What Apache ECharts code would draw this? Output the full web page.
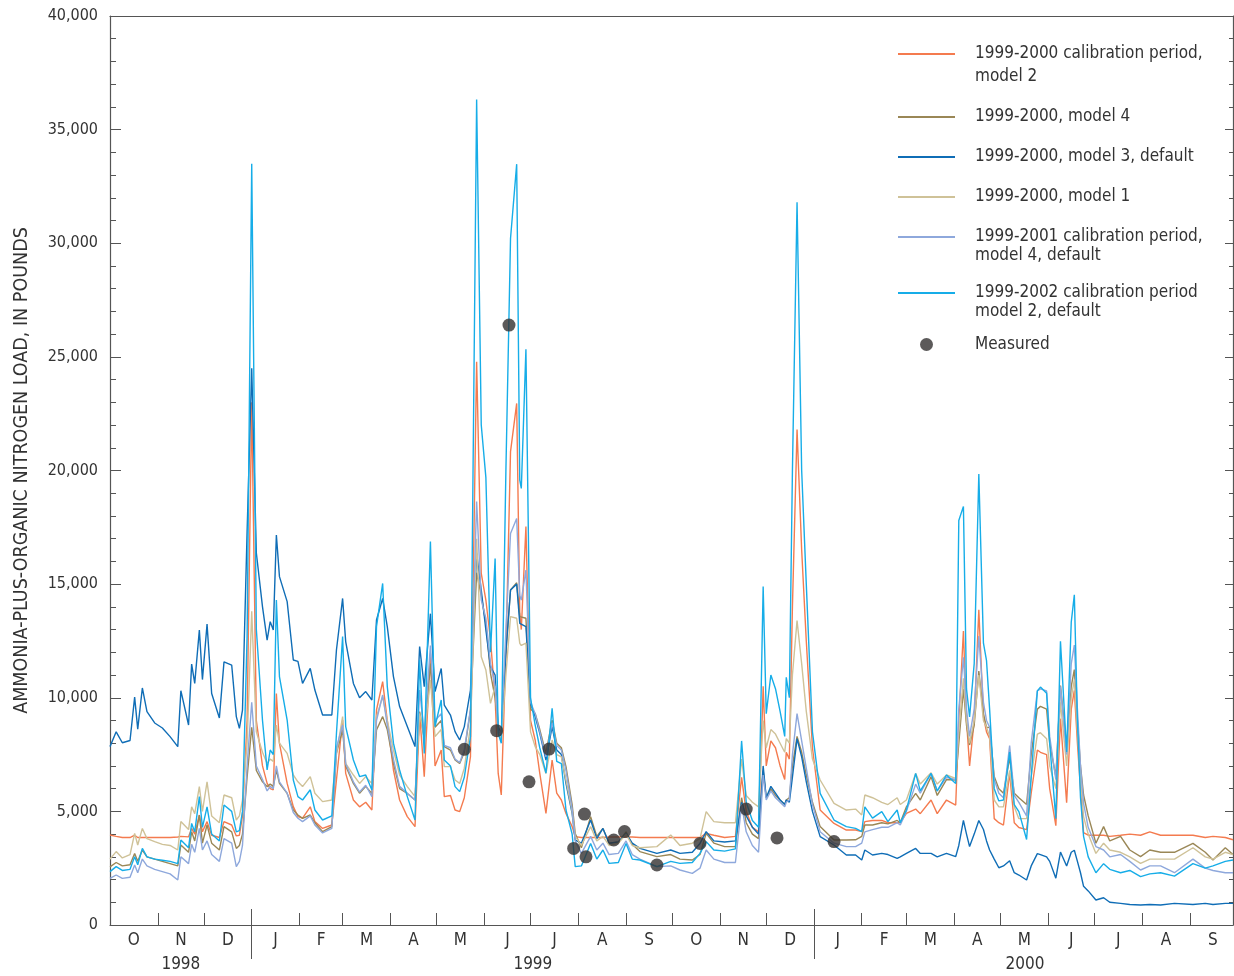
<!DOCTYPE html>
<html>
<head>
<meta charset="utf-8">
<title>Ammonia-plus-organic nitrogen load</title>
<script src="https://cdn.jsdelivr.net/npm/echarts@6/dist/echarts.min.js"></script>
<style>
    html, body { margin: 0; padding: 0; background: #fff; }
    #chart { width: 1234px; height: 976px; }
</style>
</head>
<body>
<div id="chart"></div>
<script>
const dates = [
    '1998-10-01','1998-10-05','1998-10-09','1998-10-14','1998-10-17','1998-10-19','1998-10-22','1998-10-25','1998-10-30','1998-11-04',
    '1998-11-09','1998-11-14','1998-11-16','1998-11-21','1998-11-23','1998-11-25','1998-11-28','1998-11-30','1998-12-03','1998-12-06',
    '1998-12-11','1998-12-14','1998-12-19','1998-12-22','1998-12-24','1998-12-26','1998-12-29','1999-01-01','1999-01-04','1999-01-08',
    '1999-01-11','1999-01-13','1999-01-15','1999-01-17','1999-01-19','1999-01-24','1999-01-28','1999-01-31','1999-02-03','1999-02-08',
    '1999-02-11','1999-02-16','1999-02-22','1999-02-25','1999-03-01','1999-03-03','1999-03-08','1999-03-12','1999-03-16','1999-03-20',
    '1999-03-23','1999-03-27','1999-03-30','1999-04-03','1999-04-07','1999-04-12','1999-04-17','1999-04-20','1999-04-23','1999-04-27',
    '1999-04-30','1999-05-04','1999-05-06','1999-05-10','1999-05-13','1999-05-16','1999-05-19','1999-05-23','1999-05-27','1999-05-30',
    '1999-06-02','1999-06-05','1999-06-08','1999-06-10','1999-06-12','1999-06-15','1999-06-18','1999-06-22','1999-06-24','1999-06-25',
    '1999-06-28','1999-07-01','1999-07-04','1999-07-07','1999-07-11','1999-07-15','1999-07-18','1999-07-21','1999-07-24','1999-07-28',
    '1999-07-30','1999-08-03','1999-08-09','1999-08-13','1999-08-17','1999-08-21','1999-08-27','1999-09-01','1999-09-05','1999-09-10',
    '1999-09-21','1999-09-30','1999-10-06','1999-10-14','1999-10-19','1999-10-23','1999-10-28','1999-11-04','1999-11-11','1999-11-15',
    '1999-11-18','1999-11-22','1999-11-26','1999-11-29','1999-12-01','1999-12-04','1999-12-07','1999-12-10','1999-12-13','1999-12-14',
    '1999-12-16','1999-12-18','1999-12-21','1999-12-24','1999-12-27','1999-12-31','2000-01-05','2000-01-14','2000-01-22','2000-01-28',
    '2000-02-01','2000-02-03','2000-02-08','2000-02-14','2000-02-18','2000-02-24','2000-02-26','2000-03-01','2000-03-07','2000-03-10',
    '2000-03-17','2000-03-21','2000-03-27','2000-04-02','2000-04-04','2000-04-07','2000-04-09','2000-04-11','2000-04-14','2000-04-17',
    '2000-04-20','2000-04-22','2000-04-24','2000-04-27','2000-04-30','2000-05-03','2000-05-07','2000-05-10','2000-05-13','2000-05-18',
    '2000-05-21','2000-05-25','2000-05-27','2000-05-31','2000-06-02','2000-06-06','2000-06-09','2000-06-13','2000-06-16','2000-06-18',
    '2000-06-20','2000-06-22','2000-06-24','2000-06-27','2000-07-02','2000-07-07','2000-07-11','2000-07-18','2000-07-24','2000-07-31',
    '2000-08-06','2000-08-13','2000-08-22','2000-09-03','2000-09-11','2000-09-16','2000-09-24','2000-09-29'
];

// 1999-2000 calibration period, model 2
const calib2 = [
    3960,3900,3850,3850,3950,3850,3850,3850,3850,3850,
    3850,3870,3900,3880,4250,4000,4840,4100,4550,3950,
    3850,4550,4400,3920,3950,4800,9000,23000,9000,7000,
    6230,6000,5950,10190,7990,6230,5210,4770,4700,5200,
    4550,4250,4400,6380,9020,6670,5500,5200,5400,5060,
    9460,10710,9000,6820,5500,4770,4330,9310,6530,11950,
    7000,7700,5650,5700,5060,4990,5600,7410,24790,15470,
    14300,12540,10000,6670,5720,12000,20830,22950,13710,13000,
    17530,9000,8140,6670,4910,7260,5800,5500,4910,4330,
    3890,3850,3850,3850,3850,3870,3870,3870,3870,3850,
    3850,3850,3850,3850,3850,4030,3950,3850,3900,6500,
    5000,4300,4100,10500,7000,8100,7800,7000,6400,7600,
    7300,14000,21800,16500,12500,7800,5060,4470,4180,4180,
    4110,4550,4600,4600,4500,4500,4500,4910,5100,4900,
    5500,4900,5500,5280,9000,12940,9000,7000,9000,13870,
    9160,8500,8200,4680,4500,4400,6690,4500,4290,4200,
    5800,7700,7600,7500,6000,4370,9080,5380,9500,10320,
    8000,6000,4060,3950,3950,3950,3900,3950,4000,3950,
    4100,3950,3950,3950,3850,3900,3850,3750
];

// 1999-2000, model 4
const model4 = [
    2560,2750,2600,2650,3150,2800,3300,3000,2900,2800,
    2700,2600,3520,3200,4100,3700,4840,3600,4400,3600,
    3300,4330,4100,3370,3500,4000,6500,8700,6800,6300,
    6090,6200,6100,6820,6230,5790,5060,4840,4690,4840,
    4500,4110,4330,7550,8580,7000,6230,5800,6100,5790,
    8580,9170,8600,7110,6000,5790,5500,9390,8200,11500,
    8700,9000,7850,7700,7260,7110,7600,9460,15500,14500,
    13270,11070,10000,8700,8430,12000,14740,15060,13570,13500,
    13500,9500,9310,8600,7550,9020,8000,7800,6970,5300,
    4030,3400,4770,3900,4250,3600,3650,4100,3550,3230,
    3010,3100,2900,2860,3100,4030,3600,3450,3450,5600,
    4500,4000,3800,6800,5600,6000,5700,5500,5300,5500,
    5600,7000,8300,7600,6600,5400,4330,3740,3740,3750,
    3900,4400,4400,4500,4450,4600,4500,5200,5790,5500,
    6530,5700,6400,6380,8000,10390,8800,7920,8800,11170,
    9300,8700,8690,6530,6000,5800,7350,5800,5600,5300,
    7500,9500,9620,9500,8000,6530,10540,7800,10500,11240,
    9000,7000,5720,4800,3600,4330,3700,3900,3300,3010,
    3300,3200,3200,3590,3200,2860,3400,3100
];

// 1999-2000, model 3, default
const model3 = [
    7850,8500,8020,8120,10030,8620,10430,9390,8890,8670,
    8290,7850,10310,8800,11480,10630,12980,10800,13240,10190,
    9110,11580,11440,9170,8650,9460,17300,24500,16370,14000,
    12540,13350,12980,17160,15330,14230,11660,11600,10630,11290,
    10340,9240,9240,12100,14370,12470,10630,10000,10270,9900,
    13420,14370,13130,10930,9610,8730,7850,12250,10490,13700,
    10270,11290,9680,9240,8510,8140,8730,10340,16350,14740,
    12980,11370,11000,8730,8290,12000,14740,15000,13270,13200,
    13130,9750,9170,8430,7260,8730,7700,7500,6230,4910,
    3740,3600,4620,3800,4250,3600,3650,4030,3600,3370,
    3150,3300,3150,3200,3590,4110,3700,3650,3700,5400,
    4800,4300,4000,7000,5600,6100,5800,5500,5300,5500,
    5400,6500,8200,7400,6300,5000,3890,3520,3080,3080,
    2860,3300,3080,3150,3100,2930,3000,3150,3370,3150,
    3150,3000,3150,3010,3500,4600,4000,3450,4000,4600,
    4200,3700,3300,2900,2520,2600,2830,2300,2200,1980,
    2600,3140,3100,3000,2800,2060,3210,2600,3200,3290,
    2800,2300,1700,1500,1100,1200,1000,950,900,880,
    900,880,950,900,950,900,950,950
];

// 1999-2000, model 1
const model1 = [
    2900,3230,2950,3100,4030,3520,4250,3800,3670,3550,
    3500,3300,4550,4200,5200,4900,6090,5000,6300,4800,
    4500,5720,5600,4620,4800,5500,8000,13800,8500,7600,
    7110,7300,7200,8800,8000,7550,6600,6300,6090,6530,
    5800,5430,5500,7550,9170,7110,6600,6230,6530,6230,
    9170,10050,9000,7700,6600,6090,5650,9310,8300,10780,
    8290,8600,6970,6970,6380,6230,6900,8730,17000,11800,
    11220,9750,10500,8500,8140,11000,13570,13500,12390,12300,
    12400,8500,7850,7500,6670,8140,7500,7400,6380,5000,
    3900,3500,4330,3700,3900,3500,3600,4000,3500,3400,
    3450,3960,3500,3600,3800,4990,4550,4500,4500,7300,
    5700,5400,5200,9000,7800,8600,8400,8000,7600,8200,
    8000,11000,13400,11500,9400,7300,6380,5350,5060,5100,
    4840,5720,5600,5400,5300,5600,5300,5500,6670,6200,
    6700,6200,6600,6450,8500,10860,9000,8000,9000,11000,
    9000,8700,8300,5500,5200,5200,6800,5200,4680,4680,
    6500,8400,8460,8200,7000,6000,9800,7000,10000,10800,
    8500,6500,4770,4000,3150,3600,3300,3200,3000,2710,
    2900,2900,2900,3400,3000,2900,3200,3100
];

// 1999-2001 calibration period, model 4, default
const calib4 = [
    2050,2200,2050,2100,2640,2300,2900,2600,2450,2350,
    2250,1980,3000,2700,3550,3200,4250,3300,3700,3100,
    2800,3800,3600,2570,2800,3500,7000,9800,7000,6400,
    5900,6100,6000,7000,6300,5800,4950,4700,4550,4800,
    4400,4050,4250,7800,8800,7100,6300,5850,6150,5650,
    9000,10120,8800,7300,6100,5800,5500,10340,8400,12300,
    9000,9300,7900,7800,7300,7150,7700,9500,18630,14300,
    13500,11500,10500,8600,8400,13000,17230,17890,14500,14300,
    15620,9800,9300,8500,7400,8900,7900,7700,6800,5100,
    3700,3150,3900,3300,3600,3100,3150,3700,3100,2900,
    2570,2600,2420,2270,2500,3300,2900,2750,2750,5300,
    4100,3500,3200,6600,5500,5900,5600,5400,5200,5400,
    5500,7500,9300,8100,6900,5300,4100,3600,3450,3450,
    3600,4100,4200,4300,4300,4500,4400,5000,6200,5800,
    6670,5900,6500,6400,9500,11780,9500,8300,9500,12710,
    9800,9000,8700,6400,5800,5600,7900,5700,5400,4800,
    8000,10300,10390,10300,8300,6400,10500,7500,11500,12320,
    9500,7000,5350,4300,3450,3300,3000,3100,2800,2420,
    2600,2600,2300,2900,2500,2400,2300,2300
];

// 1999-2002 calibration period, model 2, default
const calib2Default = [
    2350,2570,2400,2450,3000,2650,3370,3000,2900,2850,
    2800,2700,3740,3400,4470,4100,5650,4300,5200,4000,
    3700,5280,5000,4100,4150,5000,12700,33500,13000,9000,
    6820,7700,7500,14300,10930,9020,6380,5650,5500,5950,
    5060,4620,4800,8430,12690,8730,7260,6530,6600,5940,
    13130,15030,10490,8000,6820,5650,4620,11660,7550,16870,
    8730,9900,7260,7000,6090,5870,6500,8290,36330,22000,
    19700,12000,16130,8430,8000,20000,30210,33480,19580,19210,
    25330,10000,8800,7800,6680,9530,7200,7100,5060,4000,
    2570,2600,3590,2900,3300,2710,2750,3590,2900,2860,
    2570,2800,2710,2750,3150,3670,3300,3250,3350,8100,
    5400,4600,4300,14900,9300,11000,10400,9400,8300,10900,
    10000,20000,31800,20000,15000,8500,5790,4620,4330,4250,
    4110,5200,4700,4990,4550,5060,4500,5060,6670,5900,
    6670,5900,6600,6230,17800,18420,10390,9160,11500,19840,
    12400,11630,9500,6000,5460,5500,7610,5300,4990,3760,
    6500,10300,10470,10200,8000,4680,12480,7610,13330,14530,
    9000,5610,3900,3000,2300,2700,2450,2300,2400,2130,
    2250,2300,2150,2700,2500,2600,2800,2860
];

const measuredDates = [
    '1999-05-19','1999-06-09','1999-06-17','1999-06-30','1999-07-13','1999-07-29','1999-08-05','1999-08-06',
    '1999-08-24','1999-08-31','1999-09-21','1999-10-19','1999-11-18','1999-12-08','2000-01-14'
];
const measuredLoad = [7730, 8550, 26400, 6300, 7740, 3370, 4880, 3000, 3740, 4110, 2640, 3590, 5100, 3830, 3670];

const monthLetters = ['O','N','D','J','F','M','A','M','J','J','A','S','O','N','D','J','F','M','A','M','J','J','A','S'];
const yearLabels = ['1998', '1999', '2000'];

document.addEventListener('DOMContentLoaded', () => {
    const chart = echarts.init(document.getElementById('chart'));

    const FONT = "'Liberation Sans Narrow', 'DejaVu Sans Condensed', 'Arial Narrow', sans-serif";
    const INK = '#333';
    const AXIS = '#555';
    const START = Date.UTC(1998, 9, 1);

    // x axis runs in days since 1 Oct 1998
    const dayOf = (s) => {
        const [y, m, d] = s.split('-').map(Number);
        return (Date.UTC(y, m - 1, d) - START) / 86400000;
    };

    const monthStarts = [];
    for (let i = 0; i <= 24; i++) {
        monthStarts.push((Date.UTC(1998, 9 + i, 1) - START) / 86400000);
    }
    const monthMids = monthLetters.map((m, i) => (monthStarts[i] + monthStarts[i + 1]) / 2);
    const yearStarts = [monthStarts[3], monthStarts[15]];
    const yearMids = [
        (monthStarts[0] + monthStarts[3]) / 2,
        (monthStarts[3] + monthStarts[15]) / 2,
        (monthStarts[15] + monthStarts[24]) / 2
    ];

    // icon = y of the legend swatch, lh = line spacing of its text
    const lines = [
        { name: '1999-2000 calibration period,\nmodel 2', values: calib2, color: '#F47B4F', icon: 54, lh: 23 },
        { name: '1999-2000, model 4', values: model4, color: '#9A8756', icon: 117, lh: 19 },
        { name: '1999-2000, model 3, default', values: model3, color: '#0F6DB6', icon: 157, lh: 19 },
        { name: '1999-2000, model 1', values: model1, color: '#CFC298', icon: 197, lh: 19 },
        { name: '1999-2001 calibration period,\nmodel 4, default', values: calib4, color: '#8EA8DC', icon: 237, lh: 19 },
        { name: '1999-2002 calibration period\nmodel 2, default', values: calib2Default, color: '#16ADE8', icon: 293, lh: 19 }
    ];

    const series = lines.map((l) => ({
        name: l.name,
        type: 'line',
        data: dates.map((d, i) => [dayOf(d), l.values[i]]),
        showSymbol: false,
        symbol: 'none',
        lineStyle: { width: 1.4, color: l.color },
        itemStyle: { color: l.color },
        emphasis: { disabled: true }
    }));
    series.push({
        name: 'Measured',
        type: 'scatter',
        data: measuredDates.map((d, i) => [dayOf(d), measuredLoad[i]]),
        symbolSize: 13,
        itemStyle: { color: '#333131' },
        z: 5
    });

    // one legend box per entry; two-line labels get a blank first line
    // so the swatch lines up with their first line, as in the original
    const legends = lines.map((l) => {
        const twoLine = l.name.indexOf('\n') >= 0;
        return {
            data: [l.name],
            left: 898,
            top: l.icon - (twoLine ? 1.5 * l.lh : 0.5 * l.lh),
            padding: 0,
            icon: 'rect',
            itemWidth: 57,
            itemHeight: 2,
            selectedMode: false,
            formatter: (name) => (twoLine ? '\u00a0\n' + name : name),
            textStyle: {
                fontFamily: FONT, fontSize: 17, color: INK, lineHeight: l.lh,
                padding: [0, 0, 0, 15]
            }
        };
    });
    legends.push({
        data: ['Measured'],
        left: 920,
        top: 335,
        padding: 0,
        icon: 'circle',
        itemWidth: 13,
        itemHeight: 13,
        selectedMode: false,
        textStyle: { fontFamily: FONT, fontSize: 17, color: INK, lineHeight: 19, padding: [0, 0, 0, 37] }
    });

    const baseX = { type: 'value', min: 0, max: 729, splitLine: { show: false } };

    chart.setOption({
        animation: false,
        backgroundColor: '#fff',
        grid: { left: 110, right: 1, top: 16, bottom: 51, outerBoundsMode: 'none' },
        legend: legends,
        xAxis: [
            Object.assign({}, baseX, {
                position: 'bottom',
                axisLine: { onZero: false, lineStyle: { color: AXIS, width: 1.2 } },
                axisTick: { inside: true, length: 12, customValues: monthStarts.slice(1, 24), lineStyle: { color: AXIS } },
                axisLabel: {
                    customValues: monthMids,
                    formatter: (v) => monthLetters[monthMids.findIndex((m) => Math.abs(m - v) < 0.01)] || '',
                    fontFamily: FONT, fontSize: 17, color: INK, margin: 7
                }
            }),
            Object.assign({}, baseX, {
                position: 'bottom',
                axisLine: { show: false, onZero: false },
                axisTick: { inside: false, length: 34, customValues: yearStarts, lineStyle: { color: AXIS } },
                axisLabel: {
                    customValues: yearMids,
                    formatter: (v) => yearLabels[yearMids.findIndex((m) => Math.abs(m - v) < 0.01)] || '',
                    fontFamily: FONT, fontSize: 17, color: INK, margin: 31
                }
            }),
            Object.assign({}, baseX, {
                position: 'bottom',
                axisLine: { show: false, onZero: false },
                axisTick: { inside: true, length: 16, customValues: yearStarts, lineStyle: { color: AXIS } },
                axisLabel: { show: false }
            }),
            Object.assign({}, baseX, {
                position: 'top',
                axisLine: { onZero: false, lineStyle: { color: AXIS, width: 1.2 } },
                axisTick: { show: false },
                axisLabel: { show: false }
            })
        ],
        yAxis: [
            {
                type: 'value',
                position: 'left',
                min: 0,
                max: 40000,
                interval: 5000,
                name: 'AMMONIA-PLUS-ORGANIC NITROGEN LOAD, IN POUNDS',
                nameLocation: 'middle',
                nameGap: 78,
                nameTextStyle: { fontFamily: FONT, fontSize: 19.5, color: INK },
                axisLine: { show: true, onZero: false, lineStyle: { color: AXIS, width: 1.2 } },
                axisTick: { inside: true, length: 11, lineStyle: { color: AXIS } },
                minorTick: { show: true, splitNumber: 5, length: 6, lineStyle: { color: AXIS } },
                axisLabel: {
                    formatter: (v) => v.toLocaleString('en-US'),
                    fontFamily: FONT, fontSize: 16, color: INK, margin: 12
                },
                splitLine: { show: false }
            },
            {
                type: 'value',
                position: 'right',
                min: 0,
                max: 40000,
                interval: 5000,
                axisLine: { show: true, onZero: false, lineStyle: { color: AXIS, width: 1.2 } },
                axisTick: { inside: true, length: 8, lineStyle: { color: AXIS } },
                minorTick: { show: true, splitNumber: 5, length: 4, lineStyle: { color: AXIS } },
                axisLabel: { show: false },
                splitLine: { show: false }
            }
        ],
        series: series
    });

    window.addEventListener('resize', () => chart.resize());
});
</script>
</body>
</html>
